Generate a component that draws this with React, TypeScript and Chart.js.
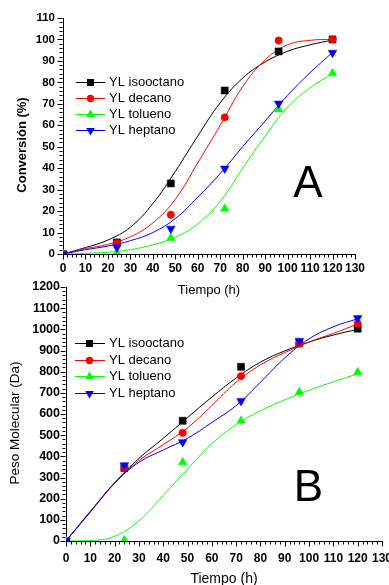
import React, { useEffect, useRef } from 'react';
import { Chart, registerables } from 'chart.js';

Chart.register(...registerables);

const FONT = '"Liberation Sans", Arial, Helvetica, sans-serif';

// ---- series meta ----
const SERIES_NAMES = ['YL isooctano', 'YL decano', 'YL tolueno', 'YL heptano'];
const SERIES_COLORS = ['#000000', '#ff0000', '#00ff00', '#0000ff'];
const SERIES_MARKERS = ['rect', 'circle', 'triangle', 'triangleDown'];

// ---- measured times ----
const SAMPLE_TIMES = [0, 24, 48, 72, 96, 120];
// ---- panel A: conversion (%) ----
const CONV_ISOOCTANO = [0, 5.4, 32.9, 76.2, 94.4, 100];
const CONV_DECANO = [0, 5.0, 18.3, 63.7, 99.5, 100];
const CONV_TOLUENO = [0, 0.6, 7.5, 21.1, 67.4, 84.2];
const CONV_HEPTANO = [0, 3.1, 11.8, 39.8, 70.1, 93.8];

// ---- fitted curves, every 10 h ----
const FIT_TIMES = [0, 10, 20, 30, 40, 50, 60, 70, 80, 90, 100, 110, 120];
const CONV_FIT_ISOOCTANO = [0, 3, 6.5, 12.5, 23.5, 38.5, 55, 70.5, 82, 89.5, 94.5, 97.5, 99.7];
const CONV_FIT_DECANO = [0, 2.5, 4.5, 8, 14.5, 25.5, 42.5, 60, 78, 90.5, 97.5, 99.6, 100];
const CONV_FIT_TOLUENO = [0, 0.3, 0.8, 2, 4.3, 7.8, 14, 24.5, 40, 55, 68.5, 77.5, 84];
const CONV_FIT_HEPTANO = [0, 2, 3.7, 6.2, 10, 16.5, 26.5, 37.5, 50, 62, 74, 84.5, 94];

// ---- panel B: molecular weight (Da) ----
const MW_ISOOCTANO = [0, 345, 568, 823, 935, 1003];
const MW_DECANO = [0, 347, 511, 779, 932, 1028];
const MW_TOLUENO = [0, 3, 372, 568, 704, 797];
const MW_HEPTANO = [0, 358, 467, 661, 946, 1053];

const MW_FIT_ISOOCTANO = [0, 140, 275, 390, 485, 583, 680, 770, 845, 898, 940, 973, 1000];
const MW_FIT_DECANO = [0, 137, 272, 380, 455, 535, 640, 750, 832, 890, 940, 981, 1025];
const MW_FIT_TOLUENO = [0, 2, 22, 95, 215, 340, 460, 550, 615, 667, 712, 752, 790];
const MW_FIT_HEPTANO = [0, 137, 274, 372, 430, 485, 560, 640, 750, 865, 955, 1012, 1050];

// ---- axis ticks ----
const X_MIN = 0, X_MAX = 130, X_STEP = 10, X_MINOR = 2;
const A_Y_MIN = 0, A_Y_MAX = 110, A_Y_STEP = 10, A_Y_MINOR = 2;
const B_Y_MIN = 0, B_Y_MAX = 1200, B_Y_STEP = 100, B_Y_MINOR = 20;

const W = 389;

function pts(xs: number[], ys: number[]) {
  return xs.map((x, i) => ({ x, y: ys[i] }));
}

function buildDatasets(points: number[][], fits: number[][]) {
  const ds: any[] = [];
  fits.forEach((f, i) => {
    ds.push({
      label: SERIES_NAMES[i] + ' fit',
      data: pts(FIT_TIMES, f),
      borderColor: SERIES_COLORS[i],
      borderWidth: 1,
      pointRadius: 0,
      fill: false,
      tension: 0.4,
      order: 100 - i,
    });
  });
  points.forEach((p, i) => {
    const m = SERIES_MARKERS[i];
    const isTri = m === 'triangle' || m === 'triangleDown';
    ds.push({
      label: SERIES_NAMES[i],
      data: pts(SAMPLE_TIMES, p),
      showLine: false,
      borderColor: SERIES_COLORS[i],
      backgroundColor: SERIES_COLORS[i],
      pointStyle: isTri ? 'triangle' : m,
      rotation: m === 'triangleDown' ? 180 : 0,
      pointRadius: m === 'rect' ? 5 : isTri ? 5 : 3.7,
      pointBorderWidth: 0.5,
      order: 50 - i,
    });
  });
  return ds;
}

function drawMarker(ctx: CanvasRenderingContext2D, kind: string, x: number, y: number, color: string) {
  ctx.save();
  ctx.fillStyle = color;
  ctx.beginPath();
  if (kind === 'rect') {
    ctx.rect(x - 3.5, y - 3.5, 7, 7);
  } else if (kind === 'circle') {
    ctx.arc(x, y, 3.7, 0, Math.PI * 2);
  } else if (kind === 'triangle') {
    ctx.moveTo(x, y - 5);
    ctx.lineTo(x + 4.33, y + 2.5);
    ctx.lineTo(x - 4.33, y + 2.5);
    ctx.closePath();
  } else {
    ctx.moveTo(x, y + 5);
    ctx.lineTo(x + 4.33, y - 2.5);
    ctx.lineTo(x - 4.33, y - 2.5);
    ctx.closePath();
  }
  ctx.fill();
  ctx.restore();
}

interface DecorCfg {
  yMinor: number;
  yMajor: number;
  legendRows: number[];
  legendX: [number, number, number, number];
  letter: string;
  letterX: number;
  letterY: number;
  yTitle: string;
  yTitleFont: string;
  yTitleX: number;
  yTitleY: number;
}

function makeDecor(cfg: DecorCfg) {
  return {
    id: 'decor',
    afterDraw(chart: any) {
      const ctx: CanvasRenderingContext2D = chart.ctx;
      const xs = chart.scales.x;
      const ys = chart.scales.y;
      const area = chart.chartArea;
      ctx.save();
      ctx.strokeStyle = '#000';
      ctx.lineWidth = 1;
      // x ticks (major + minor), outward
      const bottom = Math.round(area.bottom) + 0.5;
      for (let v = X_MIN; v <= X_MAX + 1e-9; v += X_MINOR) {
        const px = Math.round(xs.getPixelForValue(v)) + 0.5;
        const major = Math.abs(v / X_STEP - Math.round(v / X_STEP)) < 1e-6;
        const len = major ? 5 : 3;
        ctx.beginPath();
        ctx.moveTo(px, bottom);
        ctx.lineTo(px, bottom + len);
        ctx.stroke();
      }
      // y ticks
      const left = Math.round(area.left) - 0.5;
      for (let v = ys.min; v <= ys.max + 1e-9; v += cfg.yMinor) {
        const py = Math.round(ys.getPixelForValue(v)) + 0.5;
        const major = Math.abs(v / cfg.yMajor - Math.round(v / cfg.yMajor)) < 1e-6;
        const len = major ? 5 : 3;
        ctx.beginPath();
        ctx.moveTo(left, py);
        ctx.lineTo(left - len, py);
        ctx.stroke();
      }
      // legend
      const [lx0, lx1, mx, tx] = cfg.legendX;
      ctx.font = `13px ${FONT}`;
      ctx.textBaseline = 'middle';
      ctx.textAlign = 'left';
      cfg.legendRows.forEach((ry, i) => {
        ctx.strokeStyle = SERIES_COLORS[i];
        ctx.beginPath();
        ctx.moveTo(lx0, Math.round(ry) + 0.5);
        ctx.lineTo(lx1, Math.round(ry) + 0.5);
        ctx.stroke();
        drawMarker(ctx, SERIES_MARKERS[i], mx, Math.round(ry) + 0.5, SERIES_COLORS[i]);
        ctx.fillStyle = '#000';
        ctx.fillText(SERIES_NAMES[i], tx, ry + 0.5);
      });
      // panel letter
      ctx.font = `44px ${FONT}`;
      ctx.textAlign = 'center';
      ctx.textBaseline = 'alphabetic';
      ctx.fillStyle = '#000';
      ctx.fillText(cfg.letter, cfg.letterX, cfg.letterY);
      // y title
      ctx.translate(cfg.yTitleX, cfg.yTitleY);
      ctx.rotate(-Math.PI / 2);
      ctx.font = cfg.yTitleFont;
      ctx.textAlign = 'center';
      ctx.textBaseline = 'middle';
      ctx.fillText(cfg.yTitle, 0, 0);
      ctx.restore();
    },
  };
}

const plainTick = (v: any) => String(v);

function configA(): any {
  const height = 300;
  return {
    type: 'line',
    data: {
      datasets: buildDatasets(
        [CONV_ISOOCTANO, CONV_DECANO, CONV_TOLUENO, CONV_HEPTANO],
        [CONV_FIT_ISOOCTANO, CONV_FIT_DECANO, CONV_FIT_TOLUENO, CONV_FIT_HEPTANO]
      ),
    },
    options: {
      responsive: false,
      animation: false,
      devicePixelRatio: 1,
      layout: { padding: { left: 0, top: 18, right: 34, bottom: 0 } },
      plugins: { legend: { display: false }, tooltip: { enabled: false } },
      scales: {
        x: {
          type: 'linear',
          min: X_MIN,
          max: X_MAX,
          grid: { display: false, drawTicks: true, tickLength: 4 },
          border: { display: true, color: '#000', width: 1 },
          ticks: {
            stepSize: X_STEP,
            autoSkip: false,
            maxRotation: 0,
            padding: 3,
            color: '#000',
            callback: plainTick,
            font: { family: FONT, size: 12, weight: 'bold' },
          },
          title: {
            display: true,
            text: 'Tiempo (h)',
            color: '#000',
            font: { family: FONT, size: 13, weight: 'normal' },
            padding: { top: 0, bottom: 2 },
          },
          afterFit(scale: any) {
            scale.height = height - 254;
            scale.paddingLeft = 0;
            scale.paddingRight = 0;
          },
        },
        y: {
          type: 'linear',
          min: A_Y_MIN,
          max: A_Y_MAX,
          grid: { display: false, drawTicks: true, tickLength: 5 },
          border: { display: true, color: '#000', width: 1 },
          ticks: {
            stepSize: A_Y_STEP,
            autoSkip: false,
            padding: 3,
            color: '#000',
            callback: plainTick,
            font: { family: FONT, size: 11.5, weight: 'bold' },
          },
          afterFit(scale: any) {
            scale.width = 63;
            scale.paddingTop = 0;
            scale.paddingBottom = 0;
          },
        },
      },
    },
    plugins: [
      makeDecor({
        yMinor: A_Y_MINOR,
        yMajor: A_Y_STEP,
        legendRows: [82, 98, 114, 130],
        legendX: [76, 105, 90.5, 109],
        letter: 'A',
        letterX: 308,
        letterY: 197,
        yTitle: 'Conversión (%)',
        yTitleFont: `bold 13px ${FONT}`,
        yTitleX: 22,
        yTitleY: 145,
      }),
    ],
  };
}

function configB(): any {
  const height = 305;
  return {
    type: 'line',
    data: {
      datasets: buildDatasets(
        [MW_ISOOCTANO, MW_DECANO, MW_TOLUENO, MW_HEPTANO],
        [MW_FIT_ISOOCTANO, MW_FIT_DECANO, MW_FIT_TOLUENO, MW_FIT_HEPTANO]
      ),
    },
    options: {
      responsive: false,
      animation: false,
      devicePixelRatio: 1,
      layout: { padding: { left: 0, top: 7, right: 7, bottom: 0 } },
      plugins: { legend: { display: false }, tooltip: { enabled: false } },
      scales: {
        x: {
          type: 'linear',
          min: X_MIN,
          max: X_MAX,
          grid: { display: false, drawTicks: true, tickLength: 5 },
          border: { display: true, color: '#000', width: 1 },
          ticks: {
            stepSize: X_STEP,
            autoSkip: false,
            maxRotation: 0,
            padding: 5,
            color: '#000',
            callback: plainTick,
            font: { family: FONT, size: 12, weight: 'bold' },
          },
          title: {
            display: true,
            text: 'Tiempo (h)',
            color: '#000',
            font: { family: FONT, size: 14, lineHeight: 0.9, weight: 'normal' },
            padding: { top: 0, bottom: 0 },
          },
          afterFit(scale: any) {
            scale.height = height - 261;
            scale.paddingLeft = 0;
            scale.paddingRight = 0;
          },
        },
        y: {
          type: 'linear',
          min: B_Y_MIN,
          max: B_Y_MAX,
          grid: { display: false, drawTicks: true, tickLength: 4 },
          border: { display: true, color: '#000', width: 1 },
          ticks: {
            stepSize: B_Y_STEP,
            autoSkip: false,
            padding: 2,
            color: '#000',
            callback: plainTick,
            font: { family: FONT, size: 12.5, weight: 'bold' },
          },
          afterFit(scale: any) {
            scale.width = 66;
            scale.paddingTop = 0;
            scale.paddingBottom = 0;
          },
        },
      },
    },
    plugins: [
      makeDecor({
        yMinor: B_Y_MINOR,
        yMajor: B_Y_STEP,
        legendRows: [63, 79.5, 96, 112.5],
        legendX: [75, 105, 89.5, 109],
        letter: 'B',
        letterX: 308.5,
        letterY: 221,
        yTitle: 'Peso Molecular (Da)',
        yTitleFont: `13.5px ${FONT}`,
        yTitleX: 15,
        yTitleY: 143,
      }),
    ],
  };
}

function Panel({ top, height, make }: { top: number; height: number; make: () => any }) {
  const ref = useRef<HTMLCanvasElement>(null);
  useEffect(() => {
    if (!ref.current) return;
    const chart = new Chart(ref.current, make());
    return () => chart.destroy();
  }, []);
  return (
    <canvas
      ref={ref}
      width={W}
      height={height}
      style={{ position: 'absolute', left: 0, top, width: W, height, display: 'block' }}
    />
  );
}

export default function App() {
  return (
    <div style={{ position: 'absolute', left: 0, top: 0, width: W, height: 585, background: '#fff', overflow: 'hidden' }}>
      <Panel top={0} height={300} make={configA} />
      <Panel top={280} height={305} make={configB} />
    </div>
  );
}
